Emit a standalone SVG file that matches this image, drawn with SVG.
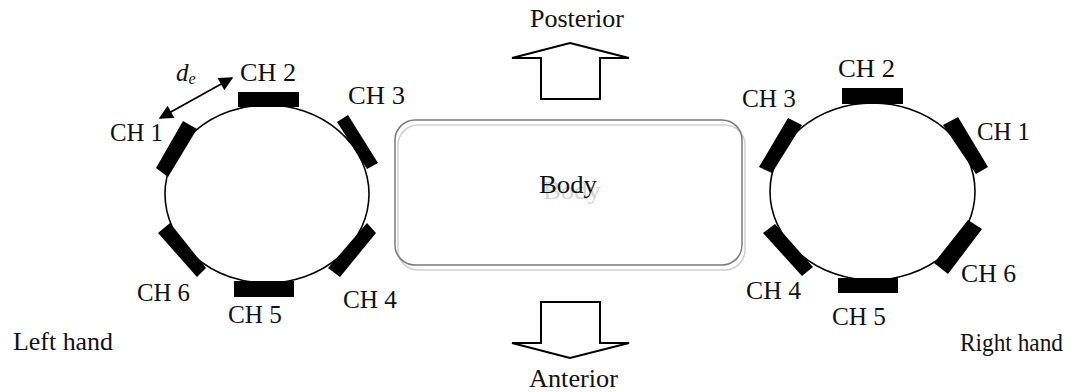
<svg xmlns="http://www.w3.org/2000/svg" width="1079" height="392" viewBox="0 0 1079 392">
  <style>
    text { font-family: "Liberation Serif", "Times New Roman", serif; font-size: 25px; fill: #111; }
    .ring { fill: #fff; stroke: #000; stroke-width: 1.6; }
    .pad { fill: #000; }
    .dir { fill: #fff; stroke: #000; stroke-width: 2; stroke-linejoin: miter; }
  </style>
  <defs>
    <marker id="tip" viewBox="0 0 10 10" refX="9" refY="5" markerWidth="15" markerHeight="14" markerUnits="userSpaceOnUse" orient="auto-start-reverse">
      <path d="M0,0 L10,5 L0,10 Z" fill="#000"/>
    </marker>
  </defs>

  <rect width="1079" height="392" fill="#fff"/>

  <!-- left hand electrode ring -->
  <g id="left-hand">
    <ellipse class="ring" cx="267" cy="194" rx="102" ry="89"/>
    <rect class="pad" x="238" y="92" width="61" height="15"/>
    <rect class="pad" x="234" y="281" width="60" height="16"/>
    <polygon class="pad" points="183,121 197,129 168,177 156,168"/>
    <polygon class="pad" points="337,122 348,115 378,163 367,169"/>
    <polygon class="pad" points="158,233 170,223 206,268 197,277"/>
    <polygon class="pad" points="367,223 376,233 340,277 328,268"/>
    <text x="110" y="141" textLength="53" lengthAdjust="spacingAndGlyphs">CH 1</text>
    <text x="240" y="81" textLength="56" lengthAdjust="spacingAndGlyphs">CH 2</text>
    <text x="348" y="104" textLength="57" lengthAdjust="spacingAndGlyphs">CH 3</text>
    <text x="343" y="308" textLength="54" lengthAdjust="spacingAndGlyphs">CH 4</text>
    <text x="228" y="323" textLength="54" lengthAdjust="spacingAndGlyphs">CH 5</text>
    <text x="137" y="301" textLength="53" lengthAdjust="spacingAndGlyphs">CH 6</text>
    <text x="13" y="350" textLength="100" lengthAdjust="spacingAndGlyphs">Left hand</text>
    <text x="176" y="81" font-style="italic">d<tspan font-size="16" dy="3">e</tspan></text>
  </g>

  <!-- right hand electrode ring -->
  <g id="right-hand">
    <ellipse class="ring" cx="872.5" cy="191.5" rx="102.5" ry="88.5"/>
    <rect class="pad" x="842" y="88" width="61" height="16"/>
    <rect class="pad" x="838" y="278" width="60" height="15"/>
    <polygon class="pad" points="788,118 802,125 772,173 759,167"/>
    <polygon class="pad" points="943,125 958,117 988,167 976,174"/>
    <polygon class="pad" points="763,233 775,224 813,267 802,276"/>
    <polygon class="pad" points="968,220 982,229 948,274 934,263"/>
    <text x="977" y="140" textLength="53" lengthAdjust="spacingAndGlyphs">CH 1</text>
    <text x="838" y="77" textLength="57" lengthAdjust="spacingAndGlyphs">CH 2</text>
    <text x="742" y="107" textLength="54" lengthAdjust="spacingAndGlyphs">CH 3</text>
    <text x="746" y="299" textLength="55" lengthAdjust="spacingAndGlyphs">CH 4</text>
    <text x="832" y="325" textLength="54" lengthAdjust="spacingAndGlyphs">CH 5</text>
    <text x="961" y="282" textLength="55" lengthAdjust="spacingAndGlyphs">CH 6</text>
    <text x="960" y="351" textLength="103" lengthAdjust="spacingAndGlyphs">Right hand</text>
  </g>

  <!-- body block with its soft offset outline -->
  <g id="body">
    <rect x="398" y="125" width="347" height="145" rx="20" fill="none" stroke="#d0d0d0" stroke-width="1.5"/>
    <rect x="395" y="120" width="347" height="145" rx="20" fill="none" stroke="#7a7a7a" stroke-width="1.5"/>
    <text x="543" y="199" textLength="58" lengthAdjust="spacingAndGlyphs" style="fill:#d4d4d4">Body</text>
    <text x="539" y="193" textLength="58" lengthAdjust="spacingAndGlyphs">Body</text>
  </g>

  <!-- direction arrows -->
  <g id="posterior">
    <polygon class="dir" points="570,43 629,58 600,58 600,99 541,99 541,58 512,58"/>
    <text x="530" y="27" textLength="94" lengthAdjust="spacingAndGlyphs">Posterior</text>
  </g>
  <g id="anterior">
    <polygon class="dir" points="541,302 600,302 600,343 629,343 570,358 512,343 541,343"/>
    <text x="529" y="387" textLength="89" lengthAdjust="spacingAndGlyphs">Anterior</text>
  </g>

  <!-- electrode spacing dimension -->
  <g id="connectors">
    <line x1="160" y1="118" x2="232" y2="78" stroke="#000" stroke-width="1.8" marker-start="url(#tip)" marker-end="url(#tip)"/>
  </g>
</svg>
